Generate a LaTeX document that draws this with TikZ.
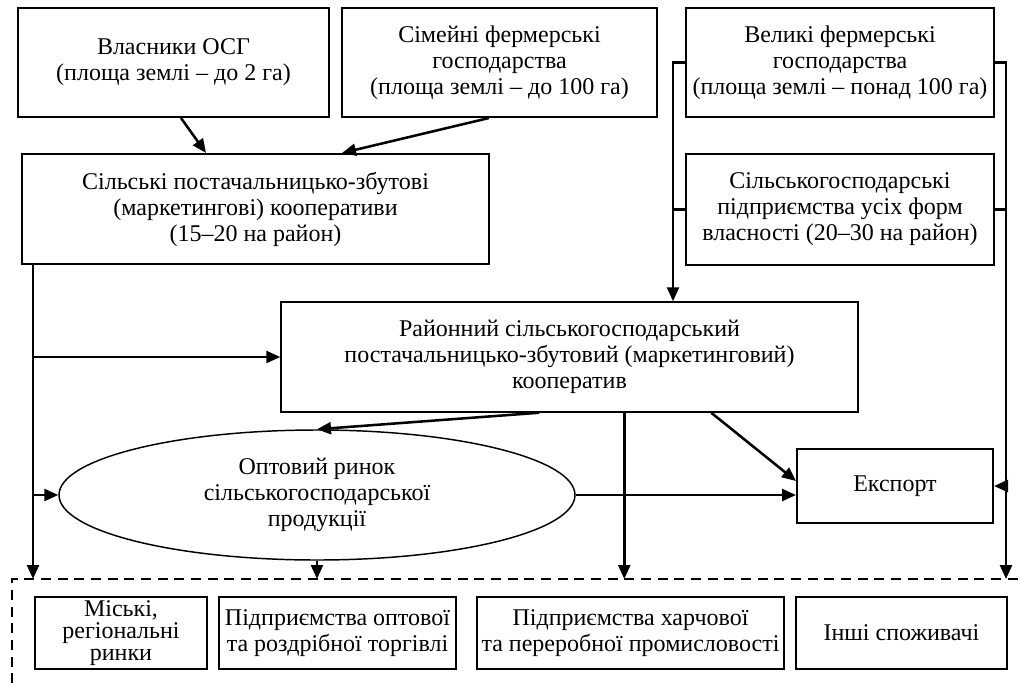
\documentclass[tikz,border=0pt]{standalone}
\usepackage{fontspec}
\setmainfont{Liberation Serif}
\usetikzlibrary{shapes.geometric,arrows.meta,calc}
\begin{document}
\begin{tikzpicture}[x=0.75pt,y=-0.75pt,
  txt/.style={font=\fontsize{18pt}{19.5pt}\selectfont, align=center, inner sep=1pt},
  box/.style={txt, draw, line width=1.5pt, rectangle},
  oval/.style={txt, draw, line width=1.1pt, ellipse, inner sep=0pt},
  arr/.style={line width=1.9pt, -{Triangle[length=10.5pt,width=9pt]}},
  ln/.style={line width=1.9pt},
  dsh/.style={line width=1.8pt, dash pattern=on 7.5pt off 5pt}]
\clip (0,0) rectangle (1021,686);
% top row
\node[box, minimum width=233.25pt, minimum height=81.75pt] (A) at (173.5,62.5) {Власники ОСГ\\(площа землі – до 2 га)};
\node[box, minimum width=236.25pt, minimum height=81.75pt] (B) at (499.5,62.5) {Сімейні фермерські\\господарства\\(площа землі – до 100 га)};
\node[box, minimum width=231pt, minimum height=81.75pt] (C) at (840,62.5) {Великі фермерські\\господарства\\(площа землі – понад 100 га)};
% second row
\node[box, minimum width=350.25pt, minimum height=82.5pt] (S) at (255.5,209) {Сільські постачальницько-збутові\\(маркетингові) кооперативи\\(15–20 на район)};
\node[box, minimum width=231pt, minimum height=83.25pt] (D) at (840,209.5) {Сільськогосподарські\\підприємства усіх форм\\власності (20–30 на район)};
% district
\node[box, line width=1.1pt, minimum width=432.75pt, minimum height=82.5pt] (R) at (569.5,357) {Районний сільськогосподарський\\постачальницько-збутовий (маркетинговий)\\кооператив};
% ellipse and export
\node[oval, minimum width=387pt, minimum height=97.5pt] (E) at (317,495) {Оптовий ринок\\сільськогосподарської\\продукції};
\node[box, minimum width=147pt, minimum height=55.5pt] (X) at (895,486) {Експорт};
% bottom row
\node[box, minimum width=129pt, minimum height=54pt, font=\fontsize{18pt}{16.5pt}\selectfont] (b1) at (121,633) {Міські,\\регіональні\\ринки};
\node[box, minimum width=177.75pt, minimum height=54pt] (b2) at (337.5,633) {Підприємства оптової\\та роздрібної торгівлі};
\node[box, minimum width=230.25pt, minimum height=54pt] (b3) at (630.5,633) {Підприємства харчової\\та переробної промисловості};
\node[box, minimum width=158.25pt, minimum height=54pt] (b4) at (901.5,633) {Інші споживачі};
% dashed frame
\coordinate (dtop) at (12,579);
\coordinate (dbl) at (12,700);
\coordinate (dtr) at (1030,579);
\draw[dsh] (dbl) -- (dtop) -- (dtr);
% top arrows into S
\draw[arr] ($(A.south west)+(164,0)$) -- ($(S.north west)+(185,0)$);
\draw[arr] ($(B.south west)+(148,0)$) -- ($(S.north west)+(321,0)$);
% left bus
\coordinate (L) at ($(S.south west)+(12,0)$);
\draw[arr] (L) -- (L |- dtop);
\draw[arr] (L |- R.west) -- (R.west);
\draw[arr] (L |- E.west) -- (E.west);
% right-top left bus
\coordinate (cl) at ($(C.west)+(-12,0)$);
\draw[arr] (C.west) -- (cl) -- (cl |- R.north);
\draw[ln] (D.west) -- (D.west -| cl);
% right bus
\coordinate (cr) at ($(C.east)+(11,0)$);
\draw[arr] (C.east) -- (cr) -- (cr |- dtop);
\draw[ln] (D.east) -- (D.east -| cr);
\draw[arr] (cr |- X.east) -- (X.east);
% district outputs
\draw[arr] ($(R.south west)+(259,0)$) -- (E.north);
\coordinate (rv) at ($(R.south west)+(344,0)$);
\draw[arr] (rv) -- (rv |- dtop);
\draw[arr] ($(R.south west)+(431,0)$) -- ($(X.west)+(0,-5)$);
% ellipse outputs
\draw[arr] (E.south) -- (E.south |- dtop);
\draw[arr] (E.east) -- (E.east -| X.west);
\end{tikzpicture}
\end{document}
